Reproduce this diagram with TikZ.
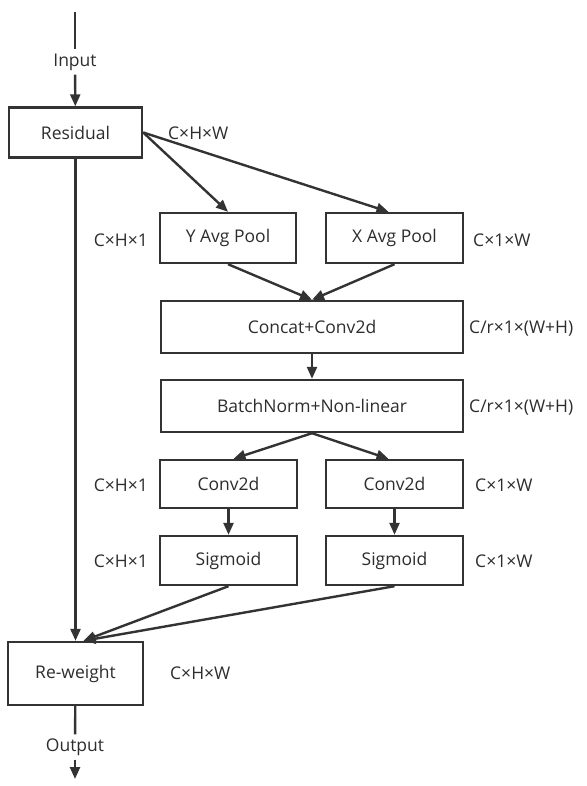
\documentclass[tikz,border=0pt]{standalone}
\usepackage{fontspec}
\setmainfont{Open Sans}
\usepackage{xcolor}
\usepackage{tikz}
\usetikzlibrary{arrows.meta,positioning,calc}
\definecolor{linegray}{RGB}{51,51,51}
\definecolor{textgray}{RGB}{45,45,45}

\begin{document}
\begin{tikzpicture}[
    x=1pt, y=-1pt,
    >={Triangle[length=12pt, width=10pt]},
    opbox/.style={draw=linegray, line width=2.4pt, fill=white,
        minimum width=#1, minimum height=50pt, inner sep=0pt,
        font=\fontsize{17.5}{19}\selectfont, text=textgray},
    opbox/.default=136pt,
    dimlbl/.style={font=\fontsize{17.5}{19}\selectfont, text=textgray, inner sep=0pt},
    iolbl/.style={font=\fontsize{17.5}{19}\selectfont, text=textgray, inner sep=4pt},
    arrw/.style={->, linegray, line width=2.4pt},
    plain/.style={linegray, line width=2.4pt},
]
\useasboundingbox (0,0) rectangle (586,786);

% === MAIN COLUMN ===
\coordinate (intop) at (75,12);
\node[iolbl] (inlbl) at (75,62) {Input};
\node[opbox=133pt] (res) at (75.5,132.5) {Residual};
\node[opbox=135pt, minimum height=63pt] (rew) at (75.5,673.5) {Re-weight};
\node[iolbl] (outlbl) at (75,747) {Output};
\coordinate (outend) at (75,779);

% === POOLING ===
\node[opbox] (ypool) at (228,238) {Y Avg Pool};
\node[opbox=137pt] (xpool) at (394.5,238) {X Avg Pool};

% === SHARED TRANSFORM ===
\node[opbox=302pt, minimum height=52pt] (concat) at (312,327) {Concat+Conv2d};
\node[opbox=302pt, minimum height=52pt] (bn) at (312,406) {BatchNorm+Non-linear};

% === ATTENTION BRANCHES ===
\node[opbox=137pt, minimum height=48pt] (convy) at (228.5,484) {Conv2d};
\node[opbox=137pt, minimum height=48pt] (convx) at (394.5,484) {Conv2d};
\node[opbox=137pt, minimum height=49pt] (sigy) at (228.5,560.5) {Sigmoid};
\node[opbox=137pt, minimum height=49pt] (sigx) at (394.5,560.5) {Sigmoid};

% === SHAPE LABELS ===
\node[dimlbl, anchor=west] (dres) at (168,133) {C×H×W};
\node[dimlbl, anchor=east] (dypool) at (148,240) {C×H×1};
\node[dimlbl, anchor=west] (dxpool) at (473,240) {C×1×W};
\node[dimlbl, anchor=west] (dconcat) at (469,329) {C/r×1×(W+H)};
\node[dimlbl, anchor=west] (dbn) at (469,408) {C/r×1×(W+H)};
\node[dimlbl, anchor=east] (dconvy) at (148,485) {C×H×1};
\node[dimlbl, anchor=west] (dconvx) at (475,485) {C×1×W};
\node[dimlbl, anchor=east] (dsigy) at (148,561) {C×H×1};
\node[dimlbl, anchor=west] (dsigx) at (475,561) {C×1×W};
\node[dimlbl, anchor=west] (drew) at (170,673) {C×H×W};

% === CONNECTORS ===
\draw[plain] (intop) -- (inlbl);
\draw[arrw] (inlbl) -- (res);
\draw[arrw] (res.south) -- (rew.north);
\draw[arrw] (res.east) -- (ypool.north);
\draw[arrw] (res.east) -- ([xshift=-6pt]xpool.north);
\draw[arrw] (ypool.south) -- (concat.north);
\draw[arrw] (xpool.south) -- (concat.north);
\draw[arrw] (concat) -- (bn);
\draw[arrw] (bn.south) -- ([xshift=5pt]convy.north);
\draw[arrw] (bn.south) -- ([xshift=-6pt]convx.north);
\draw[arrw] (convy) -- (sigy);
\draw[arrw] (convx) -- (sigx);
\coordinate (rewin) at ([xshift=8pt]rew.north);
\draw[arrw] (sigy.south) -- (rewin);
\draw[arrw] (sigx.south) -- (rewin);
\draw[plain] (rew) -- (outlbl);
\draw[arrw] (outlbl) -- (outend);

\end{tikzpicture}
\end{document}
